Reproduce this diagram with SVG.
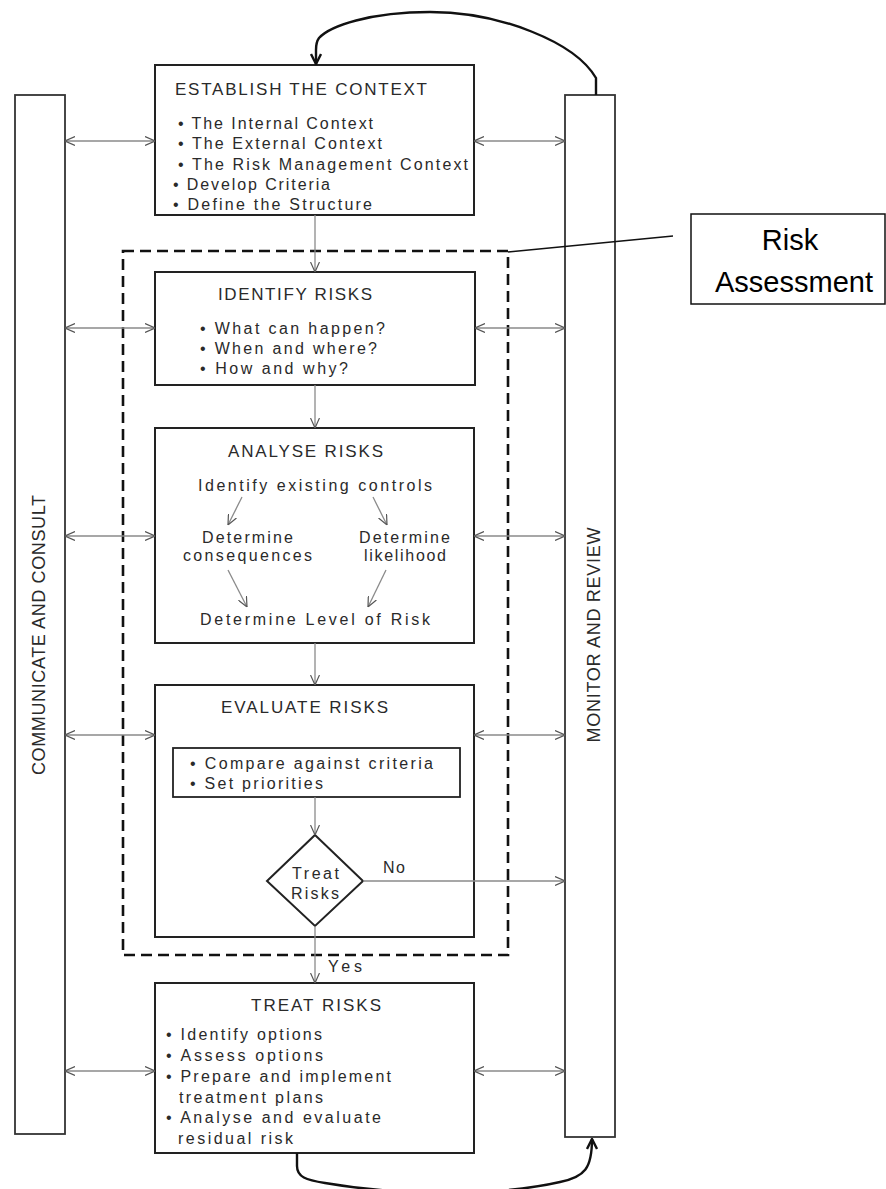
<svg xmlns="http://www.w3.org/2000/svg" width="886" height="1189" viewBox="0 0 886 1189">
<style>
.box{fill:#fff;stroke:#222;stroke-width:2}
.col{fill:#fff;stroke:#333;stroke-width:1.8}
.t{font-family:"Liberation Sans",Arial,sans-serif;font-size:16px;fill:#2a2a2a}
.h{font-family:"Liberation Sans",Arial,sans-serif;font-size:17px;fill:#2a2a2a}
.lab{font-family:"Liberation Sans",Arial,sans-serif;font-size:18px;fill:#2a2a2a}
.ra{font-family:"Liberation Sans",Arial,sans-serif;font-size:29px;fill:#000;text-anchor:middle}
.side{stroke:#8a8a8a;stroke-width:1.3;fill:none;marker-start:url(#oh);marker-end:url(#oh)}
.flow{stroke:#8a8a8a;stroke-width:1.3;fill:none;marker-end:url(#oh)}
.thick{stroke:#111;stroke-width:2.4;fill:none;marker-end:url(#bh)}
</style>
<defs>
<marker id="oh" viewBox="0 0 10 10" refX="10" refY="5" markerWidth="10" markerHeight="10" markerUnits="userSpaceOnUse" orient="auto-start-reverse">
<path d="M0,0.5 L10,5 L0,9.5" fill="none" stroke="#555" stroke-width="1.2"/>
</marker>
<marker id="bh" viewBox="0 0 12 12" refX="11" refY="6" markerWidth="12" markerHeight="12" markerUnits="userSpaceOnUse" orient="auto">
<path d="M1,1 L11,6 L1,11" fill="none" stroke="#111" stroke-width="2.4"/>
</marker>
</defs>

<g id="communicate-consult">
<rect class="col" x="15" y="95" width="50" height="1039"/>
<text class="lab" x="45" y="635" text-anchor="middle" textLength="280" transform="rotate(-90 45 635)">COMMUNICATE AND CONSULT</text>
</g>

<g id="monitor-review">
<rect class="col" x="565" y="95" width="50" height="1042"/>
<text class="lab" x="600" y="635" text-anchor="middle" textLength="215" transform="rotate(-90 600 635)">MONITOR AND REVIEW</text>
</g>

<g id="establish-context">
<rect class="box" x="155" y="65" width="319" height="150"/>
<text class="h" x="175" y="95" textLength="252">ESTABLISH THE CONTEXT</text>
<text class="t" x="178" y="129" textLength="195">• The Internal Context</text>
<text class="t" x="178" y="149" textLength="204">• The External Context</text>
<text class="t" x="178" y="170" textLength="290">• The Risk Management Context</text>
<text class="t" x="173" y="190" textLength="157">• Develop Criteria</text>
<text class="t" x="173" y="210" textLength="199">• Define the Structure</text>
</g>

<g id="identify-risks">
<rect class="box" x="155" y="272" width="320" height="113"/>
<text class="h" x="218" y="300" textLength="154">IDENTIFY RISKS</text>
<text class="t" x="200" y="334" textLength="185">• What can happen?</text>
<text class="t" x="200" y="354" textLength="177">• When and where?</text>
<text class="t" x="200" y="374" textLength="148">• How and why?</text>
</g>

<g id="analyse-risks">
<rect class="box" x="155" y="428" width="319" height="215"/>
<text class="h" x="228" y="457" textLength="155">ANALYSE RISKS</text>
<text class="t" x="198" y="491" textLength="234">Identify existing controls</text>
<text class="t" x="202" y="543" textLength="91">Determine</text>
<text class="t" x="183" y="561" textLength="129">consequences</text>
<text class="t" x="359" y="543" textLength="91">Determine</text>
<text class="t" x="364" y="561" textLength="82">likelihood</text>
<text class="t" x="200" y="625" textLength="230">Determine Level of Risk</text>
<line class="flow" x1="242" y1="497" x2="228" y2="525"/>
<line class="flow" x1="373" y1="497" x2="387" y2="525"/>
<line class="flow" x1="228" y1="570" x2="247" y2="607"/>
<line class="flow" x1="386" y1="570" x2="368" y2="607"/>
</g>

<g id="evaluate-risks">
<rect class="box" x="155" y="685" width="319" height="252"/>
<text class="h" x="221" y="713" textLength="167">EVALUATE RISKS</text>
<rect x="173" y="748" width="287" height="49" fill="#fff" stroke="#222" stroke-width="1.8"/>
<text class="t" x="190" y="769" textLength="243">• Compare against criteria</text>
<text class="t" x="190" y="789" textLength="133">• Set priorities</text>
</g>

<g id="treat-decision">
<polygon points="315,835 363,881 315,926 267,881" fill="#fff" stroke="#222" stroke-width="2"/>
<text class="t" x="292" y="879" textLength="47">Treat</text>
<text class="t" x="291" y="899" textLength="48">Risks</text>
</g>

<g id="treat-risks">
<rect class="box" x="155" y="983" width="319" height="170"/>
<text class="h" x="251" y="1011" textLength="130">TREAT RISKS</text>
<text class="t" x="166" y="1040" textLength="156">• Identify options</text>
<text class="t" x="166" y="1061" textLength="157">• Assess options</text>
<text class="t" x="166" y="1082" textLength="225">• Prepare and implement</text>
<text class="t" x="179" y="1103" textLength="144">treatment plans</text>
<text class="t" x="166" y="1123" textLength="215">• Analyse and evaluate</text>
<text class="t" x="178" y="1144" textLength="115">residual risk</text>
</g>

<g id="risk-assessment">
<rect x="123" y="251" width="385" height="704" fill="none" stroke="#111" stroke-width="2.6" stroke-dasharray="11,6"/>
<rect x="691" y="214" width="194" height="90" fill="#fff" stroke="#111" stroke-width="1.5"/>
<text class="ra" x="790" y="250">Risk</text>
<text class="ra" x="794" y="292">Assessment</text>
</g>

<g id="connectors">
<line x1="508" y1="252" x2="673" y2="236" stroke="#111" stroke-width="1.5"/>
<line class="side" x1="65" y1="141" x2="155" y2="141"/>
<line class="side" x1="474" y1="141" x2="565" y2="141"/>
<line class="side" x1="65" y1="328" x2="155" y2="328"/>
<line class="side" x1="475" y1="328" x2="565" y2="328"/>
<line class="side" x1="65" y1="536" x2="155" y2="536"/>
<line class="side" x1="474" y1="536" x2="565" y2="536"/>
<line class="side" x1="65" y1="735" x2="155" y2="735"/>
<line class="side" x1="474" y1="735" x2="565" y2="735"/>
<line class="side" x1="65" y1="1071" x2="155" y2="1071"/>
<line class="side" x1="474" y1="1071" x2="565" y2="1071"/>
<line class="flow" x1="315" y1="215" x2="315" y2="272"/>
<line class="flow" x1="315" y1="385" x2="315" y2="428"/>
<line class="flow" x1="315" y1="643" x2="315" y2="685"/>
<line class="flow" x1="315" y1="797" x2="315" y2="835"/>
<line class="flow" x1="315" y1="926" x2="315" y2="983"/>
<line class="flow" x1="363" y1="881" x2="565" y2="881"/>
<text class="t" x="383" y="873" textLength="22">No</text>
<text class="t" x="328" y="972" textLength="34">Yes</text>
<path class="thick" d="M596,95 V78 C575,42 500,12 430,12 C370,12 330,26 319,38 Q316,42 316,50 V64"/>
<path class="thick" d="M297,1153 V1166 C297,1177 306,1180 325,1183 C400,1196 500,1196 560,1182 C585,1177 592,1168 592,1139"/>
</g>
</svg>
